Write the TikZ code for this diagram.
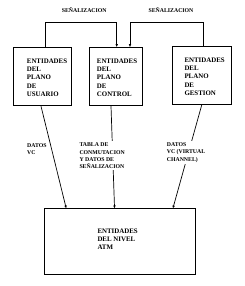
\documentclass[tikz,border=0pt]{standalone}
\usepackage{fontspec}
\setmainfont{Liberation Serif}
\usepackage{tikz}
\usetikzlibrary{arrows.meta}
\newcommand{\EntPlano}{ENTIDADES\\DEL\\PLANO\\DE}

\begin{document}
\begin{tikzpicture}[
  x=1pt,
  y=1pt,
  plano/.style={draw=black, line width=1pt, minimum width=57pt, minimum height=58pt, inner sep=0pt},
  bloque/.style={anchor=west, inner sep=0pt, align=left, font=\fontsize{6.9}{8.3}\selectfont\bfseries},
  rotulo/.style={anchor=west, inner xsep=1pt, inner ysep=1.5pt, align=left,
    font=\fontsize{5.8}{7.3}\selectfont\bfseries},
  flujo/.style={-{Latex[length=3pt,width=2.6pt]}, line width=0.7pt, draw=black}
]
\useasboundingbox (0,0) rectangle (244,286);

\node[plano, minimum width=57.7pt] (usuario) at (42.2,209.3) {};
\node[plano, minimum width=53.7pt] (control) at (115.9,209.3) {};
\node[plano, minimum width=58.3pt] (gestion) at (201.9,210.4) {};
\node[plano, minimum width=151.7pt, minimum height=66pt] (atm) at (119.9,44) {};

\node[bloque] (usuario-txt) at (26.7,208.3) {\EntPlano\\USUARIO};
\node[bloque] (control-txt) at (96.7,208.3) {\EntPlano\\CONTROL};
\node[bloque] (gestion-txt) at (184.3,209.3) {\EntPlano\\GESTION};
\node[bloque] (atm-txt) at (97.3,46.7) {ENTIDADES\\DEL NIVEL\\ATM};

\node[rotulo, anchor=center] (senal-izq) at (84.2,276) {SEÑALIZACION};
\node[rotulo, anchor=center] (senal-der) at (171,276) {SEÑALIZACION};

\draw[flujo] ([xshift=2.8pt]usuario.north) -- ++(0,24.4) -| ([xshift=0.8pt]control.north);
\draw[flujo] ([xshift=1.4pt]gestion.north) -- ++(0,23.4) -| ([xshift=14.1pt]control.north);

\draw[flujo] ([xshift=-1.2pt]usuario.south) -- ([xshift=22.7pt]atm.north west);
\draw[flujo] ([xshift=-4.9pt]control.south) -- ([xshift=71pt]atm.north west);
\draw[flujo] ([xshift=-0.2pt]gestion.south) -- ([xshift=129.3pt]atm.north west);

\node[rotulo] (datos-vc) at (26,137.1) {DATOS\\VC};
\node[rotulo, fill=white] (tabla) at (78.3,130.2) {TABLA DE\\CONMUTACION\\Y DATOS DE\\SEÑALIZACION};
\node[rotulo, fill=white] (datos-virtual) at (165.7,133.5) {DATOS\\VC (VIRTUAL\\CHANNEL)};
\end{tikzpicture}
\end{document}
